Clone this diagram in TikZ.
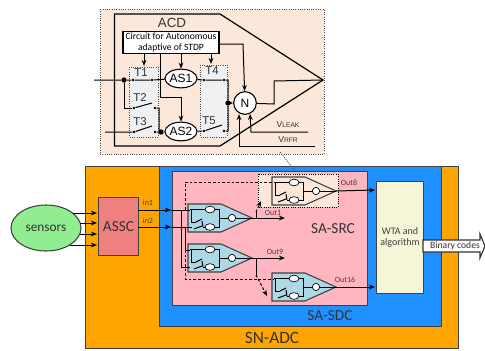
\documentclass[tikz,border=0pt]{standalone}
\usepackage{fontspec}
\setmainfont{Carlito}
\newfontfamily\arialfont{Liberation Sans}
\usetikzlibrary{arrows.meta,shapes.geometric}
\definecolor{snorange}{RGB}{255,165,0}
\definecolor{sdcblue}{RGB}{30,144,255}
\definecolor{srcpink}{RGB}{255,182,193}
\definecolor{wtayellow}{RGB}{245,245,215}
\definecolor{asscred}{RGB}{240,128,128}
\definecolor{sensgreen}{RGB}{144,238,144}
\definecolor{acdpeach}{RGB}{252,232,218}
\definecolor{cellteal}{RGB}{173,216,230}
\definecolor{tgray}{RGB}{238,240,242}
\definecolor{edgegray}{RGB}{64,64,64}
\newcommand{\fsz}[1]{\fontsize{#1}{#1}\selectfont}
\tikzset{
  block/.style={draw=edgegray,line width=0.8pt,anchor=north west,inner sep=0pt},
  wire/.style={line width=0.75pt,black},
  arr/.style={wire,-{Stealth[length=4.5pt,width=3.5pt]}},
  dashwire/.style={line width=0.75pt,black,dash pattern=on 2pt off 1.5pt},
  dotbox/.style={draw=black!70,densely dotted,line width=0.7pt},
  bigtxt/.style={font=\fsz{11.5},text=black!80,inner sep=0pt},
  tagtxt/.style={font=\fsz{6},text=black!75,inner sep=0pt},
  tlabel/.style={font=\arialfont\fsz{8.5},text=black!80,inner sep=0pt},
  vlabel/.style={font=\arialfont\fsz{6.5},text=black!80,inner sep=0pt},
  opnode/.style={draw=black,fill=white,line width=0.8pt,inner sep=0pt,font=\arialfont\fsz{9}},
  minibub/.style={draw=black,fill=white,inner sep=0pt,line width=0.5pt},
  cdot/.style={circle,fill=black,inner sep=0pt,minimum size=2.2pt},
  bigdot/.style={circle,fill=black,inner sep=0pt,minimum size=4pt},
  % small copy of the ACD cell
  cell/.pic={
    \draw[line width=0.8pt,draw=black!75,pic actions] (0,0) -- (33,0) -- (64,14) -- (33,28) -- (0,28) -- cycle;
    \node[minibub,ellipse,minimum width=7.5pt,minimum height=5pt] (-a) at (22,5.5) {};
    \node[minibub,ellipse,minimum width=7.5pt,minimum height=5pt] (-b) at (22,23) {};
    \node[minibub,circle,minimum size=5.5pt] (-n) at (44,14) {};
    \coordinate (-out) at (64,14);
    \draw[wire] (2,5.5) -- (-a) -- (31,5.5) -- (31,23) -- (-b) -- (15,23);
    \draw[wire] (3,5.5) -- (3,18) -- (8,18);
    \draw[wire] (8,18) -- (14,15) (14,17) -- (15,23);
    \draw[wire] (6,25) -- (14,22);
    \draw[wire] (31,14) -- (-n) -- (-out);
  }
}
\begin{document}
\begin{tikzpicture}[x=0.75pt,y=-0.75pt]
\useasboundingbox (0,0) rectangle (485,350);
% top figure: ACD
\draw[dotbox,fill=acdpeach] (100,9) rectangle (324,154);
\draw[line width=0.9pt] (114.5,14) -- (220,14) -- (323,80) -- (220,146) -- (114.5,146) -- cycle;
\node[tlabel,font=\arialfont\fsz{10}] (acd) at (172,23) {ACD};
\node[draw=black,fill=white,line width=0.8pt,minimum width=72pt,minimum height=17pt,inner sep=0pt,align=center,font=\fsz{7.2}] (stdp) at (171,42.5) {Circuit for Autonomous\\[1pt]adaptive of STDP};
\draw[dotbox,fill=tgray] (129.5,67) rectangle (158,137);
\draw[dotbox,fill=tgray] (200,65) rectangle (227,137);
\node[tlabel] (t1) at (141,73) {T1};
\node[tlabel] (t2) at (140,98) {T2};
\node[tlabel] (t3) at (140,122) {T3};
\node[tlabel] (t4) at (212,71) {T4};
\node[tlabel] (t5) at (209,121) {T5};
\node[opnode,ellipse,minimum width=24pt,minimum height=14pt] (as1) at (181,78.5) {AS1};
\node[opnode,ellipse,minimum width=24pt,minimum height=14pt] (as2) at (181,131.5) {AS2};
\node[opnode,circle,minimum size=17pt] (nrn) at (245,103) {N};
% contacts of the switches
\foreach \nm/\px/\py in {ta/133/80,tb/152/80,tc/134/108,td/155/108,te/134/132,tf/155/132,tg/204/80,th/224/80,ti/204/131,tj/224/131}
  \node[cdot] (\nm) at (\px,\py) {};
\node[bigdot] (ja) at (124,80) {};
\node[bigdot] (jb) at (161,132) {};
\node[bigdot] (jc) at (228,103) {};
\coordinate (inA) at (94,80);
\coordinate (inB) at (105,132);
\coordinate (tip) at (323,80);
\draw[wire] (inA) -- (ja) -- (ta) -- (tb) -- (as1) -- (tg) -- (th) -- (228,80) -- (jc) -- (228,131) -- (tj);
\draw[wire] (ja) -- (124,108) -- (tc);
\draw[wire] (tc) -- (152,103) (td) -- (159,108) -- (159,132);
\draw[wire] (inB) -- (te) (te) -- (152,126) (tf) -- (jb) -- (as2) -- (ti) (ti) -- (222,125);
\draw[arr] (jc) -- (nrn);
\draw[wire] (nrn) -- (274,104) -- (274,81) -- (tip);
\draw[arr] (144,54) -- (144,66);
\draw[arr] (181,54) -- (as1);
\draw[arr] (211,54) -- (211,64);
\draw[arr] (219,44) -- (243,44) -- (nrn);
\draw[arr] (160.7,54) -- (160.7,97) -- (181,97) -- (as2);
\coordinate (leak) at (308,132);
\coordinate (rfr) at (315,146);
\draw[arr] (leak) -- (251,132) -- (250,114);
\draw[arr] (rfr) -- (239,146) -- (239,114);
\node[vlabel] (vleak) at (288,125) {V\fsz{5}LEAK};
\node[vlabel] (vrfr) at (288,140) {V\fsz{5}RFR};
% lower figure: SN-ADC
\node[block,fill=snorange,line width=1pt,minimum width=279.75pt,minimum height=136.5pt] (snadc) at (85,166) {};
\node[block,fill=sdcblue,minimum width=211.5pt,minimum height=120pt] (sdc) at (159,166) {};
\node[block,fill=srcpink,minimum width=146.25pt,minimum height=100.5pt] (src) at (172,171) {};
\node[block,fill=wtayellow,minimum width=35.25pt,minimum height=84pt,align=center,font=\fsz{7.5},text=black!75] (wta) at (376,181) {WTA and\\[1pt]algorithm};
\node[block,fill=asscred,minimum width=30pt,minimum height=43.5pt,font=\fsz{11.5},text=black!80] (assc) at (98,197) {ASSC};
\node[draw=edgegray,fill=sensgreen,ellipse,line width=0.8pt,minimum width=52.5pt,minimum height=34.5pt,inner sep=0pt,font=\fsz{10},text=black!80] (sensors) at (46,228) {sensors};
\node[bigtxt,font=\fsz{13}] (snlabel) at (272,338) {SN-ADC};
\node[bigtxt] (sdclabel) at (330,316) {SA-SDC};
\node[bigtxt] (srclabel) at (333,229) {SA-SRC};
\draw[dotbox,draw=black,fill=acdpeach] (258,174) rectangle (338,207);
\draw[black!70,densely dotted,line width=0.7pt] (280,152) -- (297,173);
% the four cells
\pic[fill=cellteal] (nA) at (188,204) {cell};
\pic[fill=cellteal] (nB) at (188,244) {cell};
\pic[fill=cellteal] (nC) at (272,273) {cell};
\pic[fill=acdpeach] (nD) at (272,177) {cell};
% sensors to ASSC
\foreach \yy/\xx in {213/73,223/80,234/80,245/70}
  \draw[arr] (\xx,\yy) -- (97,\yy);
% inputs
\draw[arr] (138,210) -- (171,210);
\draw[arr] (138,227) -- (171,227);
\draw[wire] (171,210) -- (190,210);
\draw[wire] (171,227) -- (192,227);
\draw[wire] (181,210) -- (181,267) -- (190,267);
\draw[wire] (185,227) -- (185,250) -- (190,250);
\draw[dashwire] (185,210) -- (185,182) -- (274,182);
\draw[dashwire] (185,250) -- (185,279) -- (274,279);
% outputs
\draw[arr] (nA-out) -- (285,218);
\draw[arr] (nB-out) -- (285,258);
\draw[arr] (nD-out) -- (375,190);
\draw[arr] (nC-out) -- (375,287);
\draw[wire] (256,218) -- (256,212);
\draw[dashwire,-{Stealth[length=4.5pt,width=3.5pt]}] (256,212) -- (261,201);
\draw[wire] (256,258) -- (256,275);
\draw[dashwire,-{Stealth[length=4.5pt,width=3.5pt]}] (256,275) -- (267,296);
\node[tagtxt] (inone) at (148,203) {in1};
\node[tagtxt] (intwo) at (148,221) {in2};
\node[tagtxt] (outa) at (273,213) {Out1};
\node[tagtxt] (outb) at (275,252) {Out9};
\node[tagtxt] (outc) at (349,183) {Out8};
\node[tagtxt] (outd) at (345,280) {Out16};
% binary codes
\draw[line width=0.8pt,draw=black!80,fill=white] (423,240) -- (480,240) -- (480,234) -- (485,246) -- (480,258) -- (480,252) -- (423,252) -- cycle;
\node[font=\fsz{7.2},text=black!80,inner sep=0pt] (bincodes) at (455,246) {Binary codes};
\end{tikzpicture}
\end{document}
